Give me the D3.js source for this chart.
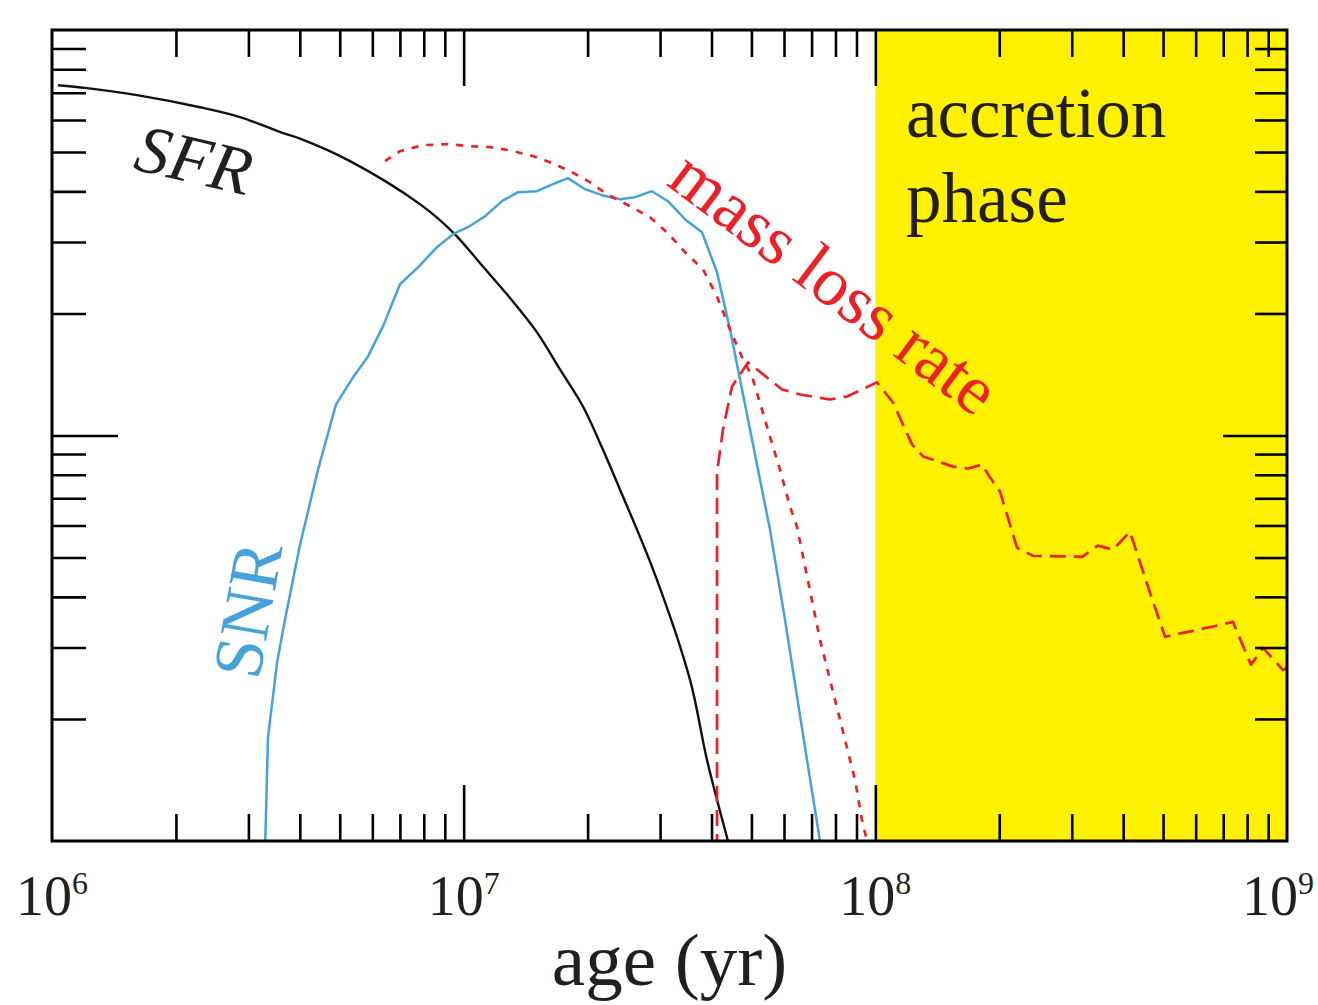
<!DOCTYPE html>
<html><head><meta charset="utf-8">
<script src="https://cdn.jsdelivr.net/npm/d3@7"></script>
<style>
body{margin:0;background:#fff;}
svg{display:block;font-family:"Liberation Serif","Times New Roman",serif;}
</style>
</head><body>
<svg id="c" width="1318" height="1005"></svg>
<script>
// ---- data (age in yr, arbitrary log-scaled rate) ----
const sfrAge = [1.034e6,1.216e6,1.609e6,2.288e6,2.862e6,3.640e6,4.004e6,5.296e6,7.83e6,9.42e6,1.114e7,1.274e7,1.507e7,1.714e7,1.949e7,2.168e7,2.397e7,2.916e7,3.546e7,3.90e7,4.386e7];
const sfrVal = [73.1,71.9,69.1,64.5,61.0,55.7,53.97,47.5,37.2,31.7,26.1,22.29,17.96,14.55,11.79,9.34,7.36,4.54,2.50,1.585,1.0];

const snrAge = [3.292e6,3.347e6,3.520e6,3.681e6,3.849e6,4.004e6,4.428e6,4.897e6,5.385e6,5.856e6,6.368e6,7.003e6,7.745e6,8.613e6,9.42e6,1.024e7,1.127e7,1.239e7,1.355e7,1.507e7,1.648e7,1.792e7,1.971e7,2.168e7,2.397e7,2.608e7,2.867e7,3.135e7,3.447e7,3.793e7,4.125e7,4.436e7,5.547e7,6.033e7,6.823e7,7.337e7];
const snrVal = [0.95,1.796,2.751,3.513,4.41,5.38,8.24,11.93,13.91,15.67,18.58,23.6,25.99,29.13,31.36,32.63,34.74,37.83,39.81,40.04,41.67,43.12,40.5,39.14,38.26,38.7,40.04,37.83,34.15,31.7,25.26,18.27,5.86,3.513,1.585,1.0];

const mlrDotAge = [6.44e6,7.003e6,7.965e6,9.11e6,1.036e7,1.159e7,1.296e7,1.474e7,1.621e7,1.813e7,2.027e7,2.229e7,2.535e7,2.835e7,3.118e7,3.486e7,3.815e7,4.125e7,4.436e7,4.769e7,5.016e7,5.304e7,5.547e7,5.866e7,6.203e7,6.450e7,7.337e7,8.209e7,8.681e7,8.927e7,9.28e7,9.54e7];
const mlrDotVal = [47.5,50.25,52.0,52.3,51.7,51.4,50.5,48.86,47.2,44.87,42.14,39.37,36.77,34.54,31.7,27.99,25.7,22.0,18.27,15.41,13.99,11.59,9.94,8.24,6.68,5.96,3.135,1.99,1.585,1.415,1.127,1.0];

const mlrDashAge = [4.125e7,4.125e7,4.265e7,4.485e7,4.639e7,4.905e7,5.157e7,5.933e7,6.561e7,7.762e7,8.537e7,1.009e8,1.104e8,1.228e8,1.306e8,1.544e8,1.680e8,1.816e8,1.899e8,2.008e8,2.209e8,2.415e8,3.177e8,3.474e8,3.778e8,4.155e8,4.647e8,5.054e8,6.61e8,7.39e8,8.175e8,8.745e8,9.78e8,1e9];
const mlrDashVal = [0.95,8.10,10.34,13.21,13.91,15.14,14.55,12.99,12.62,12.27,12.48,13.52,12.06,9.50,8.88,8.38,8.29,8.48,7.88,7.27,5.29,5.05,5.02,5.35,5.23,5.79,4.10,3.19,3.38,3.47,2.72,2.995,2.64,2.67];

const accretionStart = 1e8, accretionEnd = 1e9;
const xDomain = [1e6, 1e9];
const yDomain = [1, 100];
const xLabelValues = [1e6, 1e7, 1e8, 1e9];
const xLabelExps = ["6", "7", "8", "9"];
const xMajor = [1e7, 1e8];
const yMajor = [10];
const xMinor = [1e6, 1e7, 1e8].flatMap(d => [2,3,4,5,6,7,8,9].map(k => k * d));
const yMinor = [1, 10].flatMap(d => [2,3,4,5,6,7,8,9].map(k => k * d));
const xTitle = "age (yr)";

// ---- layout ----
const L = 52, R = 1287, T = 30, B = 841;
const colRed = "#ED2027", colBlue = "#45A2DA", colYellow = "#FFF100", colInk = "#231F20";

const svg = d3.select("#c");
const x = d3.scaleLog().domain(xDomain).range([L, R]);
const y = d3.scaleLog().domain(yDomain).range([B, T]);

svg.append("defs").append("clipPath").attr("id", "clip")
  .append("rect").attr("x", L).attr("y", T).attr("width", R - L).attr("height", B - T);

// accretion band
svg.append("rect")
  .attr("x", x(accretionStart)).attr("y", y(yDomain[1]))
  .attr("width", x(accretionEnd) - x(accretionStart)).attr("height", y(yDomain[0]) - y(yDomain[1]))
  .attr("fill", colYellow);

const g = svg.append("g").attr("clip-path", "url(#clip)");
function series(ages, vals, color, width, dash, curve) {
  const line = d3.line().x(d => x(d[0])).y(d => y(d[1])).curve(curve || d3.curveLinear);
  g.append("path").datum(ages.map((a, i) => [a, vals[i]]))
    .attr("d", line).attr("fill", "none").attr("stroke", color)
    .attr("stroke-width", width).attr("stroke-dasharray", dash || null)
    .attr("stroke-linejoin", "round");
}
series(sfrAge, sfrVal, "#111", 2.4, null, d3.curveCatmullRom.alpha(0.5));
series(snrAge, snrVal, colBlue, 2.5);
series(mlrDotAge, mlrDotVal, colRed, 2.7, "7,8");
series(mlrDashAge, mlrDashVal, colRed, 2.7, "16,8");

// ticks (inward)
function ax(gen, vals, size, tx, ty) {
  const a = svg.append("g").attr("transform", `translate(${tx},${ty})`)
    .call(gen.tickValues(vals).tickSize(-size).tickFormat(""));
  a.select(".domain").remove();
  a.selectAll("line").attr("stroke", "#000").attr("stroke-width", 2.6);
}
ax(d3.axisBottom(x), xMinor, 27, 0, B);
ax(d3.axisBottom(x), xMajor, 56, 0, B);
ax(d3.axisTop(x), xMinor, 27, 0, T);
ax(d3.axisTop(x), xMajor, 56, 0, T);
ax(d3.axisLeft(y), yMinor, 34, L, 0);
ax(d3.axisLeft(y), yMajor, 66, L, 0);
ax(d3.axisRight(y), yMinor, 32, R, 0);
ax(d3.axisRight(y), yMajor, 64, R, 0);

// frame
svg.append("rect").attr("x", L).attr("y", T).attr("width", R - L).attr("height", B - T)
  .attr("fill", "none").attr("stroke", "#000").attr("stroke-width", 3);

// tick labels
xLabelValues.forEach((v, i) => {
  const cx = Math.min(x(v), 1318 - 40);
  const t = svg.append("text").attr("x", cx).attr("y", 915)
    .attr("text-anchor", "middle").attr("fill", colInk).attr("font-size", 56);
  t.append("tspan").text("10");
  t.append("tspan").attr("font-size", 32).attr("dy", -21).text(xLabelExps[i]);
});

// axis title
svg.append("text").attr("x", (L + R) / 2).attr("y", 985).attr("text-anchor", "middle")
  .attr("fill", colInk).attr("font-size", 75).text(xTitle);

// annotations
svg.append("text").attr("transform", "translate(132,169) rotate(13)")
  .attr("font-style", "italic").attr("font-size", 68).attr("fill", colInk).text("SFR");
svg.append("text").attr("transform", "translate(259,681) rotate(-80)")
  .attr("font-size", 70).attr("fill", colBlue).text("SNR");
svg.append("text").attr("transform", "translate(665,184) rotate(37)")
  .attr("font-size", 70).attr("fill", colRed).text("mass loss rate");
svg.append("text").attr("x", 906).attr("y", 137)
  .attr("font-size", 71).attr("fill", colInk).text("accretion");
svg.append("text").attr("x", 906).attr("y", 222)
  .attr("font-size", 71).attr("fill", colInk).text("phase");
</script>
</body></html>
